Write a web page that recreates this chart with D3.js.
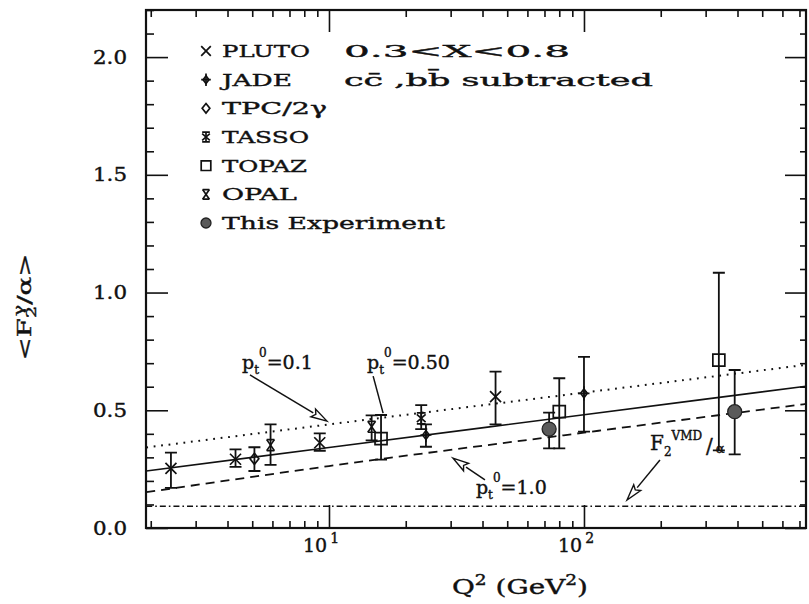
<!DOCTYPE html>
<html><head><meta charset="utf-8">
<script src="https://cdn.jsdelivr.net/npm/d3@7"></script>
<style>
body{margin:0;background:#fff}
text{font-family:'DejaVu Serif',serif;fill:#111;stroke:#111;stroke-width:0.4px}
</style>
</head><body>
<svg id="c" width="809" height="604"></svg>
<script>
// ---------------- data ----------------
const experiments = ["PLUTO","JADE","TPC/2γ","TASSO","TOPAZ","OPAL","This Experiment"];
const expSymbols  = ["cross","jade","diamond","tasso","square","opal","circle"];

const ptQ2  = [2.4, 4.3, 9.2, 45, 5.1, 5.9, 14.7, 23, 24, 100, 16, 80, 338, 73, 390];
const ptExp = ["PLUTO","PLUTO","PLUTO","PLUTO","TPC/2γ","OPAL","OPAL","TASSO","JADE","JADE",
               "TOPAZ","TOPAZ","TOPAZ","This Experiment","This Experiment"];
const ptVal = [0.253,0.292,0.362,0.558,0.294,0.352,0.430,0.466,0.395,0.572,0.380,0.494,0.713,0.420,0.494];
const ptLo  = [0.170,0.260,0.328,0.440,0.242,0.268,0.372,0.420,0.345,0.409,0.290,0.338,0.330,0.338,0.313];
const ptHi  = [0.320,0.334,0.402,0.664,0.343,0.440,0.478,0.522,0.440,0.727,0.480,0.636,1.084,0.490,0.671];

// theory curves (read at these Q^2 values)
const curveQ2     = [1.92, 10, 100, 742];
const curveSolid  = [0.242, 0.342, 0.481, 0.602];   // p_t^0 = 0.50
const curveDotted = [0.342, 0.440, 0.575, 0.693];   // p_t^0 = 0.1
const curveDashed = [0.152, 0.263, 0.405, 0.527];   // p_t^0 = 1.0
const curveVMD    = [0.092, 0.092, 0.092, 0.092];   // F2^VMD / alpha

const yMajorTicks  = [0, 0.5, 1.0, 1.5, 2.0];
const yMajorLabels = ["0.0","0.5","1.0","1.5","2.0"];
const xMajorTicks  = [10, 100];
const xMajorExp    = ["1","2"];
const xMinorTicks  = [2,3,4,5,6,7,8,9,20,30,40,50,60,70,80,90,200,300,400,500,600,700];

// ---------------- layout ----------------
const svg = d3.select("#c");
const L=146, R=806, T=10, B=528;
const x = d3.scaleLog().domain([1.916, 742.5]).range([L, R]);
const y = d3.scaleLinear().domain([0, 2.2]).range([B, T]);
const yMinorTicks = d3.range(0, 2.201, 0.1).filter(v => Math.abs(v*2 - Math.round(v*2)) > 1e-6);

svg.append("defs").append("clipPath").attr("id","clip")
  .append("rect").attr("x",L).attr("y",T).attr("width",R-L).attr("height",B-T);

function axisG(axis, tx, ty){
  const g = svg.append("g").attr("transform",`translate(${tx},${ty})`).call(axis);
  g.select(".domain").remove();
  g.selectAll(".tick line").attr("stroke","#111").attr("stroke-width",1.6);
  g.selectAll(".tick text").remove();
  return g;
}
axisG(d3.axisBottom(x).tickValues(xMinorTicks).tickSize(-7), 0, B);
axisG(d3.axisBottom(x).tickValues(xMajorTicks).tickSize(-23), 0, B);
axisG(d3.axisTop(x).tickValues(xMinorTicks).tickSize(-7), 0, T);
axisG(d3.axisTop(x).tickValues(xMajorTicks).tickSize(-22), 0, T);
axisG(d3.axisLeft(y).tickValues(yMinorTicks).tickSize(-8), L, 0);
axisG(d3.axisLeft(y).tickValues(yMajorTicks).tickSize(-22), L, 0);
axisG(d3.axisRight(y).tickValues(yMinorTicks).tickSize(-6), R, 0);
axisG(d3.axisRight(y).tickValues(yMajorTicks).tickSize(-21), R, 0);

svg.append("rect").attr("x",L).attr("y",T).attr("width",R-L).attr("height",B-T)
  .attr("fill","none").attr("stroke","#111").attr("stroke-width",2.2);

// y tick labels
svg.append("g").selectAll("text").data(yMajorTicks).join("text")
  .attr("x", L-19).attr("y", d => y(d)+6.5)
  .attr("text-anchor","end").attr("font-size",18)
  .attr("textLength",34).attr("lengthAdjust","spacingAndGlyphs")
  .text((d,i) => yMajorLabels[i]);

// x tick labels
xMajorTicks.forEach((v,i) => {
  const t = svg.append("text").attr("x", x(v)-26).attr("y", 552).attr("font-size",19);
  t.append("tspan").text("10");
  t.append("tspan").attr("dx",3).attr("dy",-9).attr("font-size",14).text(xMajorExp[i]);
});

// axis titles
const xt = svg.append("text").attr("x",452).attr("y",594).attr("font-size",21)
  .attr("textLength",136).attr("lengthAdjust","spacingAndGlyphs");
xt.append("tspan").text("Q");
xt.append("tspan").attr("dy",-9).attr("font-size",14).text("2");
xt.append("tspan").attr("dy",9).text(" (GeV");
xt.append("tspan").attr("dy",-9).attr("font-size",14).text("2");
xt.append("tspan").attr("dy",9).text(")");

const yt = svg.append("text").attr("transform","translate(31,307) rotate(-90)")
  .attr("text-anchor","middle").attr("font-size",19)
  .attr("textLength",107).attr("lengthAdjust","spacingAndGlyphs");
yt.append("tspan").text("<F");
yt.append("tspan").attr("dy",5).attr("font-size",13).text("2");
yt.append("tspan").attr("dy",-13).attr("dx",-7).attr("font-size",13).text("γ");
yt.append("tspan").attr("dy",8).text("/α>");

// theory curves
const line = d3.line().x(d => x(d[0])).y(d => y(d[1])).curve(d3.curveMonotoneX);
const cg = svg.append("g").attr("clip-path","url(#clip)").attr("fill","none").attr("stroke","#111");
cg.append("path").attr("d", line(curveQ2.map((q,i)=>[q,curveSolid[i]]))).attr("stroke-width",1.7);
cg.append("path").attr("d", line(curveQ2.map((q,i)=>[q,curveDotted[i]])))
  .attr("stroke-width",2).attr("stroke-dasharray","1.8,5.7");
cg.append("path").attr("d", line(curveQ2.map((q,i)=>[q,curveDashed[i]])))
  .attr("stroke-width",1.8).attr("stroke-dasharray","9,6");
cg.append("path").attr("d", line(curveQ2.map((q,i)=>[q,curveVMD[i]])))
  .attr("stroke-width",1.5).attr("stroke-dasharray","6,3,1.6,3");

// symbols
function drawSym(g, type, cx, cy, s){
  const G = g.append("g").attr("transform",`translate(${cx},${cy})`)
    .attr("fill","none").attr("stroke","#111").attr("stroke-width",1.7);
  const p = d => G.append("path").attr("d", d);
  switch(type){
    case "cross": p(`M${-s},${-s}L${s},${s}M${-s},${s}L${s},${-s}`); break;
    case "jade":
      p(`M0,${-s*0.8}L${s*0.6},0L0,${s*0.8}L${-s*0.6},0Z`);
      p(`M0,${-s*1.3}V${s*1.3}M${-s},0H${s}`); break;
    case "diamond": p(`M0,${-s}L${s*0.8},0L0,${s}L${-s*0.8},0Z`); break;
    case "tasso":
      p(`M${-s*0.8},${-s*0.7}L${s*0.8},${s*0.7}M${-s*0.8},${s*0.7}L${s*0.8},${-s*0.7}`);
      p(`M${-s*0.8},${-s}H${s*0.8}M${-s*0.8},${s}H${s*0.8}M0,${-s}V${s}`); break;
    case "square": p(`M${-s},${-s}H${s}V${s}H${-s}Z`); break;
    case "opal":
      p(`M${-s*0.7},${-s}L${s*0.7},${s}M${-s*0.7},${s}L${s*0.7},${-s}`);
      p(`M${-s*0.7},${-s}H${s*0.7}M${-s*0.7},${s}H${s*0.7}`); break;
    case "circle":
      G.append("circle").attr("r", s).attr("fill","#5a5a5a").attr("stroke","#222").attr("stroke-width",1.3); break;
  }
}

// data points with error bars
const dg = svg.append("g");
ptQ2.forEach((q,i) => {
  const cx = x(q);
  dg.append("path")
    .attr("d", `M${cx},${y(ptLo[i])}V${y(ptHi[i])}M${cx-6},${y(ptLo[i])}H${cx+6}M${cx-6},${y(ptHi[i])}H${cx+6}`)
    .attr("stroke","#111").attr("stroke-width",1.8).attr("fill","none");
});
ptQ2.forEach((q,i) => {
  const type = expSymbols[experiments.indexOf(ptExp[i])];
  const s = type==="circle" ? 7 : (type==="square" ? 6 : 5.5);
  drawSym(dg, type, x(q), y(ptVal[i]), s);
});

// legend
const legW = [88,70,105,87,85,75,223];
const lg = svg.append("g");
experiments.forEach((e,i) => {
  const cy = 51 + i*28.67;
  const type = expSymbols[i];
  drawSym(lg, type, 206, cy, type==="circle" ? 5 : 4.8);
  lg.append("text").attr("x",222).attr("y",cy+6).attr("font-size",17.5)
    .attr("textLength",legW[i]).attr("lengthAdjust","spacingAndGlyphs").text(e);
});

// cut annotation
svg.append("text").attr("x",344).attr("y",57).attr("font-size",17.5)
  .attr("textLength",226).attr("lengthAdjust","spacingAndGlyphs").text("0.3<X<0.8");
svg.append("text").attr("x",344).attr("y",86).attr("font-size",17.5)
  .attr("textLength",309).attr("lengthAdjust","spacingAndGlyphs").text("cc\u0304 ,bb\u0304 subtracted");

// curve labels (positions in data coordinates)
function ptLabel(q, v, val){
  const t = svg.append("text").attr("x",x(q)).attr("y",y(v)).attr("font-size",19);
  t.append("tspan").text("p");
  t.append("tspan").attr("dy",5).attr("font-size",12).text("t");
  t.append("tspan").attr("dy",-17).attr("font-size",12).text("0");
  t.append("tspan").attr("dy",12).attr("font-size",19).text("=" + val);
}
ptLabel(4.56, 0.675, "0.1");
ptLabel(14.1, 0.675, "0.50");
ptLabel(37.7, 0.144, "1.0");

// F2 VMD label
{
  const t = svg.append("text").attr("x",x(181.5)).attr("y",y(0.331)).attr("font-size",20);
  t.append("tspan").text("F");
  t.append("tspan").attr("dy",6).attr("font-size",12).text("2");
  t.append("tspan").attr("dy",-16).attr("font-size",12).text("VMD");
  t.append("tspan").attr("dx",4).attr("dy",13).attr("font-size",20).text("/");
  t.append("tspan").attr("dx",3).attr("dy",0).attr("font-size",13).text("α");
}

// arrows
function arrow(q0, v0, q1, v1, head){
  const x0=x(q0), y0=y(v0), x1=x(q1), y1=y(v1);
  const dx=x1-x0, dy=y1-y0, len=Math.hypot(dx,dy), ux=dx/len, uy=dy/len;
  const hl = 16, hw = 4.5;
  const bx = x1-ux*hl, by = y1-uy*hl;
  svg.append("path").attr("d",`M${x0},${y0}L${head?bx:x1},${head?by:y1}`)
    .attr("stroke","#111").attr("stroke-width",1.5).attr("fill","none");
  if(head){
    svg.append("path")
      .attr("d",`M${x1},${y1}L${bx-uy*hw},${by+ux*hw}L${bx+ux*3},${by+uy*3}L${bx+uy*hw},${by-ux*hw}Z`)
      .attr("stroke","#111").attr("stroke-width",1.4).attr("fill","#fff");
  }
}
arrow(4.90, 0.650, 9.82, 0.454, true);
arrow(14.9, 0.645, 16.3, 0.488, false);
arrow(40.9, 0.204, 30.6, 0.297, true);
arrow(198.6, 0.289, 147.5, 0.119, true);
</script>
</body></html>
